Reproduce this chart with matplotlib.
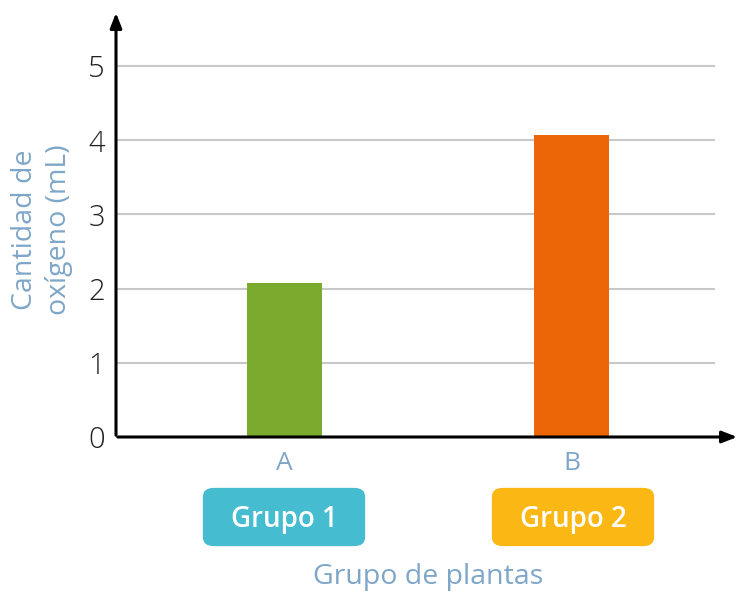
import numpy as np
import matplotlib.pyplot as plt
from matplotlib.patches import FancyBboxPatch

plt.rcParams['font.family'] = ['Open Sans', 'DejaVu Sans']

categories = ['A', 'B']
values = [2.07, 4.07]
bar_colors = ['#7aab2e', '#ec6608']
groups = ['Grupo 1', 'Grupo 2']
group_colors = ['#45bccf', '#fbb713']
yticks = [0, 1, 2, 3, 4, 5]

label_color = '#7ea6c8'

fig = plt.figure(figsize=(7.36, 5.92), dpi=100)
ax = fig.add_axes([116/736, 1-437/592, (715-116)/736, (437-12)/592])

x = np.arange(len(categories))
ax.bar(x, values, width=0.261, color=bar_colors, zorder=2)

ax.set_xlim(-0.587, 1.5)
ax.set_ylim(0, 5.73)
ax.set_yticks(yticks)
ax.set_yticklabels([str(t) for t in yticks], fontsize=21, fontweight='light', color='#222222')
ax.set_xticks(x)
ax.set_xticklabels(categories, fontsize=19, color=label_color)
ax.tick_params(axis='y', length=0, pad=8)
ax.tick_params(axis='x', length=0, pad=10)

for t in yticks[1:]:
    ax.axhline(t, color='#c8c8c8', linewidth=1.5, zorder=1)

for s in ax.spines.values():
    s.set_visible(False)

# axes with arrowheads
ax.annotate('', xy=(116, 592-10), xytext=(116, 592-438), xycoords='figure pixels',
            arrowprops=dict(arrowstyle='-|>,head_length=0.9,head_width=0.35', color='black', lw=2.2))
ax.annotate('', xy=(740, 592-437), xytext=(115, 592-437), xycoords='figure pixels',
            arrowprops=dict(arrowstyle='-|>,head_length=0.9,head_width=0.35', color='black', lw=2.2))

fig.text(42/736, 1-230/592, 'Cantidad de\noxígeno (mL)', rotation=90, ha='center', va='center',
         fontsize=20.5, color=label_color, linespacing=1.25)

# group boxes under the categories
for cx, g, c in zip([284, 573], groups, group_colors):
    box = FancyBboxPatch(((cx-76)/736, 1-542/592), 152/736, 50/592,
                         boxstyle='round,pad=0.007,rounding_size=0.015',
                         transform=fig.transFigure, facecolor=c, edgecolor='none')
    fig.patches.append(box)
    fig.text(cx/736, 1-519/592, g, ha='center', va='center', fontsize=20,
             fontweight='semibold', color='white')

fig.text(428/736, 1-577/592, 'Grupo de plantas', ha='center', va='center',
         fontsize=20.5, color=label_color)

plt.savefig('out.png', dpi=100)
plt.close()
